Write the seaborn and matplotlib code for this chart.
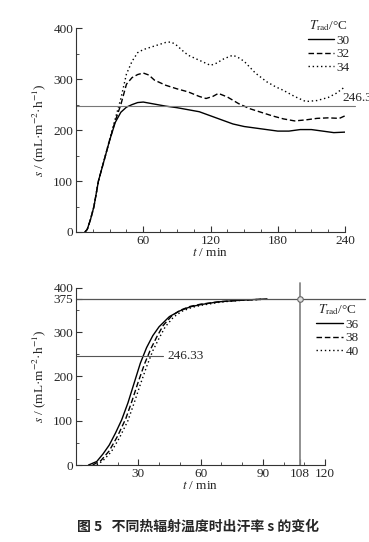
import numpy as np
import pandas as pd
import matplotlib
matplotlib.use("Agg")
import matplotlib.pyplot as plt
from matplotlib.ticker import MultipleLocator
from matplotlib.lines import Line2D
import seaborn as sns

# ---- top panel: T_rad 30 / 32 / 34 ----
t30 = [8, 10, 13, 16, 20, 25, 30, 35, 40, 45, 50, 55, 60, 70, 80, 90, 100, 110,
       120, 130, 140, 150, 160, 170, 180, 190, 200, 210, 220, 230, 240]
s30 = [0, 5, 25, 50, 100, 140, 180, 215, 235, 245, 250, 254, 255, 251, 247, 244, 240, 236,
       228, 220, 212, 207, 204, 201, 198, 198, 201, 201, 198, 195, 196]

t32 = [8, 10, 13, 16, 20, 25, 30, 35, 40, 45, 50, 55, 60, 65, 70, 80, 90, 100, 110,
       116, 122, 127, 135, 145, 155, 165, 175, 185, 195, 205, 215, 225, 235, 240]
s32 = [0, 5, 25, 50, 100, 140, 180, 218, 250, 290, 303, 309, 312, 308, 298, 288, 281, 275, 266,
       262, 266, 272, 265, 252, 242, 235, 228, 222, 218, 220, 223, 224, 223, 228]

t34 = [8, 10, 13, 16, 20, 25, 30, 35, 40, 45, 50, 55, 60, 70, 80, 85, 90, 95, 100, 110,
       120, 125, 132, 140, 145, 150, 160, 170, 178, 185, 195, 205, 215, 225, 232, 240]
s34 = [0, 5, 25, 50, 100, 140, 182, 222, 262, 310, 335, 352, 358, 365, 372, 373, 366, 356, 347, 337,
       327, 331, 340, 347, 342, 335, 312, 295, 285, 278, 266, 256, 258, 264, 272, 285]

# ---- bottom panel: T_rad 36 / 38 / 40 ----
t36 = [6, 10, 13, 16, 19, 22, 25, 28, 31, 34, 37, 40, 45, 50, 55, 60, 68, 76, 84, 92]
s36 = [0, 8, 25, 45, 72, 102, 140, 185, 230, 265, 292, 312, 335, 348, 357, 362, 368, 371, 373, 375]

t38 = [8, 12, 16, 20, 24, 27, 30, 33, 36, 39, 42, 46, 50, 55, 60, 70, 80, 90]
s38 = [0, 10, 32, 65, 105, 145, 188, 228, 262, 290, 315, 336, 349, 358, 363, 369, 372, 374]

t40 = [10, 13, 17, 21, 25, 28, 31, 34, 37, 40, 43, 47, 51, 56, 61, 70, 80, 90]
s40 = [0, 10, 30, 62, 100, 140, 182, 222, 258, 286, 312, 334, 347, 356, 361, 368, 372, 374]

top_labels = ["30", "32", "34"]
bot_labels = ["36", "38", "40"]
ref_rate = 246.33
s_max = 375
t_max = 108

sns.set_style("ticks")
plt.rcParams["font.family"] = ["Liberation Serif", "Noto Sans CJK SC"]
plt.rcParams["mathtext.fontset"] = "stix"
plt.rcParams["axes.linewidth"] = 0.8
plt.rcParams["axes.edgecolor"] = "#333333"

styles = ["-", (0, (4, 2)), (0, (1, 2))]
FS = 9.5

fig = plt.figure(figsize=(3.69, 5.42), dpi=100)
ax1 = fig.add_axes([0.206, 0.572, 0.729, 0.376])
ax2 = fig.add_axes([0.206, 0.142, 0.675, 0.327])


def draw(ax, series, labels):
    frames = []
    for (t, s), lab in zip(series, labels):
        frames.append(pd.DataFrame({"t": t, "s": s, "T": lab}))
    df = pd.concat(frames)
    for lab, ls in zip(labels, styles):
        sub = df[df["T"] == lab]
        sns.lineplot(data=sub, x="t", y="s", ax=ax, color="black", lw=1.0,
                     linestyle=ls, legend=False)
    handles = [Line2D([], [], color="black", lw=1.0, linestyle=ls) for ls in styles]
    return handles


def style_ax(ax):
    sns.despine(ax=ax)
    ax.tick_params(which="both", direction="in", labelsize=FS, pad=2,
                   color="#333333")
    ax.tick_params(which="major", length=4)
    ax.tick_params(which="minor", length=2.5)
    ax.set_xlabel("$t$ / min", fontsize=FS, labelpad=0)
    ax.set_ylabel("$s$ / (mL·m$^{-2}$·h$^{-1}$)", fontsize=FS, labelpad=4)


# top panel
h1 = draw(ax1, [(t30, s30), (t32, s32), (t34, s34)], top_labels)
ax1.plot([0, 249], [ref_rate, ref_rate], color="#777777", lw=0.8, clip_on=False)
ax1.text(238, ref_rate + 4, f"{ref_rate:.2f}", fontsize=FS, va="bottom", ha="left")
ax1.set_xlim(0, 240)
ax1.set_ylim(0, 400)
ax1.set_xticks([60, 120, 180, 240])
ax1.xaxis.set_minor_locator(MultipleLocator(15))
ax1.set_yticks([0, 100, 200, 300, 400])
ax1.yaxis.set_minor_locator(MultipleLocator(50))
style_ax(ax1)
leg1 = ax1.legend(h1, top_labels, title="$T_{\\rm rad}$/°C", loc="upper right",
                  bbox_to_anchor=(0.948, 0.966), bbox_transform=fig.transFigure,
                  frameon=False, fontsize=FS, title_fontsize=FS, handlelength=2.0,
                  handletextpad=0.2, labelspacing=0.1, borderaxespad=0, borderpad=0)

# bottom panel
h2 = draw(ax2, [(t36, s36), (t38, s38), (t40, s40)], bot_labels)
ax2.plot([0, 139], [s_max, s_max], color="#555555", lw=0.9, clip_on=False)
ax2.plot([t_max, t_max], [0, 411], color="#888888", lw=1.3, clip_on=False)
ax2.plot([t_max], [s_max], marker="o", ms=4, mfc="#dddddd", mec="#666666",
         mew=0.8, clip_on=False)
ax2.plot([0, 42], [ref_rate, ref_rate], color="#555555", lw=0.8)
ax2.text(44, ref_rate, f"{ref_rate:.2f}", fontsize=FS, va="center", ha="left")
ax2.set_xlim(0, 120)
ax2.set_ylim(0, 400)
ax2.set_xticks([30, 60, 90, t_max, 120])
ax2.xaxis.set_minor_locator(MultipleLocator(10))
ax2.set_yticks([0, 100, 200, 300, s_max, 400])
ax2.yaxis.set_minor_locator(MultipleLocator(50))
style_ax(ax2)
leg2 = ax2.legend(h2, bot_labels, title="$T_{\\rm rad}$/°C", loc="upper right",
                  bbox_to_anchor=(0.972, 0.442), bbox_transform=fig.transFigure,
                  frameon=False, fontsize=FS, title_fontsize=FS, handlelength=2.0,
                  handletextpad=0.2, labelspacing=0.1, borderaxespad=0, borderpad=0)

fig.text(0.537, 0.028, "图 5   不同热辐射温度时出汗率 s 的变化", ha="center", va="center",
         fontsize=10, fontweight="bold", family=["Noto Sans CJK SC", "DejaVu Sans"])

fig.savefig("out.png", dpi=100)
